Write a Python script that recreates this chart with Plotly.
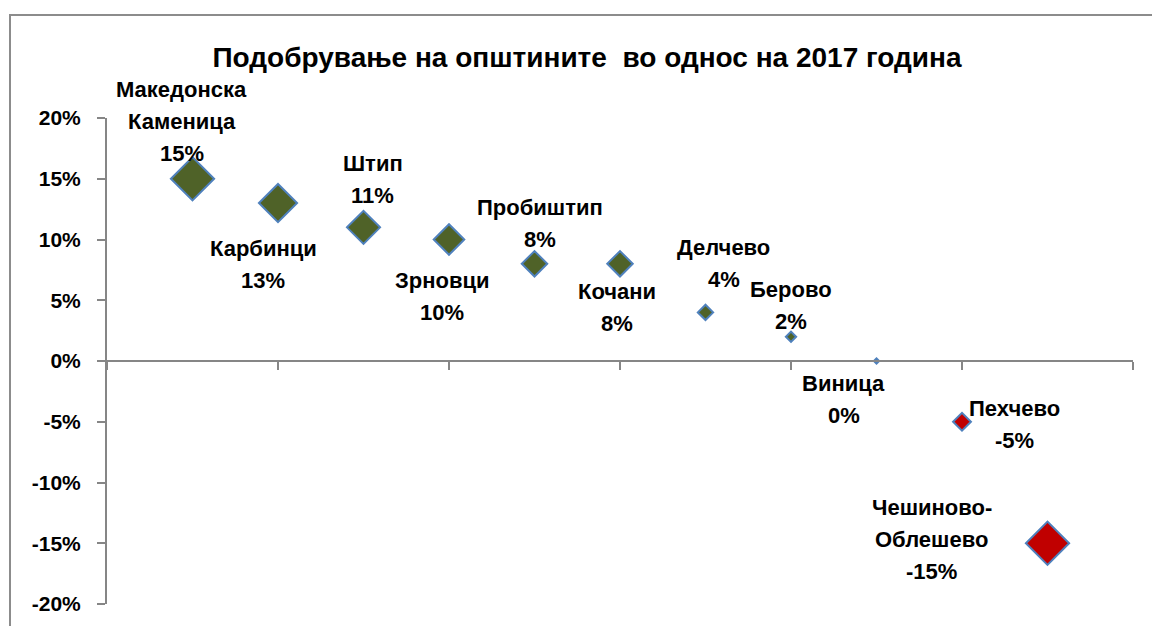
import plotly.graph_objects as go

# data
municipalities = [
    "Македонска Каменица", "Карбинци", "Штип", "Зрновци", "Пробиштип",
    "Кочани", "Делчево", "Берово", "Виница", "Пехчево", "Чешиново-Облешево",
]
change_pct = [15, 13, 11, 10, 8, 8, 4, 2, 0, -5, -15]
positions = list(range(1, len(municipalities) + 1))
y_ticks = [20, 15, 10, 5, 0, -5, -10, -15, -20]
x_ticks = [0, 2, 4, 6, 8, 10, 12]

# label offsets in pixels (dx, dy of the first line, dy positive = down)
label_offsets = [
    (-11, -89), (-15, 45), (9, -64), (-7, 41), (5, -56), (-3, 28),
    (18, -65), (0, -47), (-33, 22), (52, -13), (-116, -36),
]
LINE_GAP = 32

W, H = 1152, 626
L, R, T, B = 107, 19, 118, 22
PW, PH = W - L - R, H - T - B

font_family = "Liberation Sans, Arial, sans-serif"
axis_grey = "#868686"

colors = ["#4F6228" if v >= 0 else "#C00000" for v in change_pct]
sizes = [4 + 1.95 * abs(v) for v in change_pct]

fig = go.Figure()
fig.add_trace(go.Scatter(
    x=positions, y=change_pct, mode="markers",
    marker=dict(symbol="diamond", size=sizes, color=colors, opacity=1,
                line=dict(color="#4F81BD", width=2)),
    showlegend=False, hoverinfo="skip",
))

annotations = []
for x, v, name, (dx, dy) in zip(positions, change_pct, municipalities, label_offsets):
    lines = name.replace("-", "-\n").replace(" ", "\n").split("\n") + [f"{v}%"]
    for i, line in enumerate(lines):
        annotations.append(dict(
            x=x, y=v, xref="x", yref="y", text=line, showarrow=False,
            xanchor="center", yanchor="middle",
            xshift=dx, yshift=-(dy + i * LINE_GAP),
            font=dict(family=font_family, size=22, color="black", weight="bold"),
        ))

fig.update_layout(
    width=W, height=H,
    margin=dict(l=L, r=R, t=T, b=B),
    paper_bgcolor="white", plot_bgcolor="white",
    title=dict(
        text="Подобрување на општините  во однос на 2017 година",
        x=587 / W, xanchor="center", y=1 - 57 / H, yanchor="middle",
        xref="container", yref="container",
        font=dict(family=font_family, size=28, color="black", weight="bold"),
    ),
    xaxis=dict(
        range=[0, 12], anchor="free", position=0.5,
        showline=True, linecolor=axis_grey, linewidth=2,
        ticks="outside", ticklen=8, tickwidth=2, tickcolor=axis_grey,
        tickvals=x_ticks, showticklabels=False,
        showgrid=False, zeroline=False,
    ),
    yaxis=dict(
        range=[-20, 20],
        showline=True, linecolor=axis_grey, linewidth=2,
        ticks="outside", ticklen=8, tickwidth=2, tickcolor=axis_grey,
        tickvals=y_ticks, ticktext=[f"{t}%" for t in y_ticks],
        tickfont=dict(family=font_family, size=21, color="black", weight="bold"),
        ticklabelstandoff=12,
        showgrid=False, zeroline=False,
    ),
    annotations=annotations,
    shapes=[dict(
        type="rect", xref="paper", yref="paper",
        x0=(10 - L) / PW, x1=(W + 20 - L) / PW,
        y0=-(40 + B) / PH, y1=(H - B - 15) / PH,
        line=dict(color="#8C8C8C", width=2), fillcolor="rgba(0,0,0,0)",
        layer="below",
    )],
)

fig.write_html("out.html", config={"displayModeBar": False},
               post_script="document.body.style.margin='0px';")
